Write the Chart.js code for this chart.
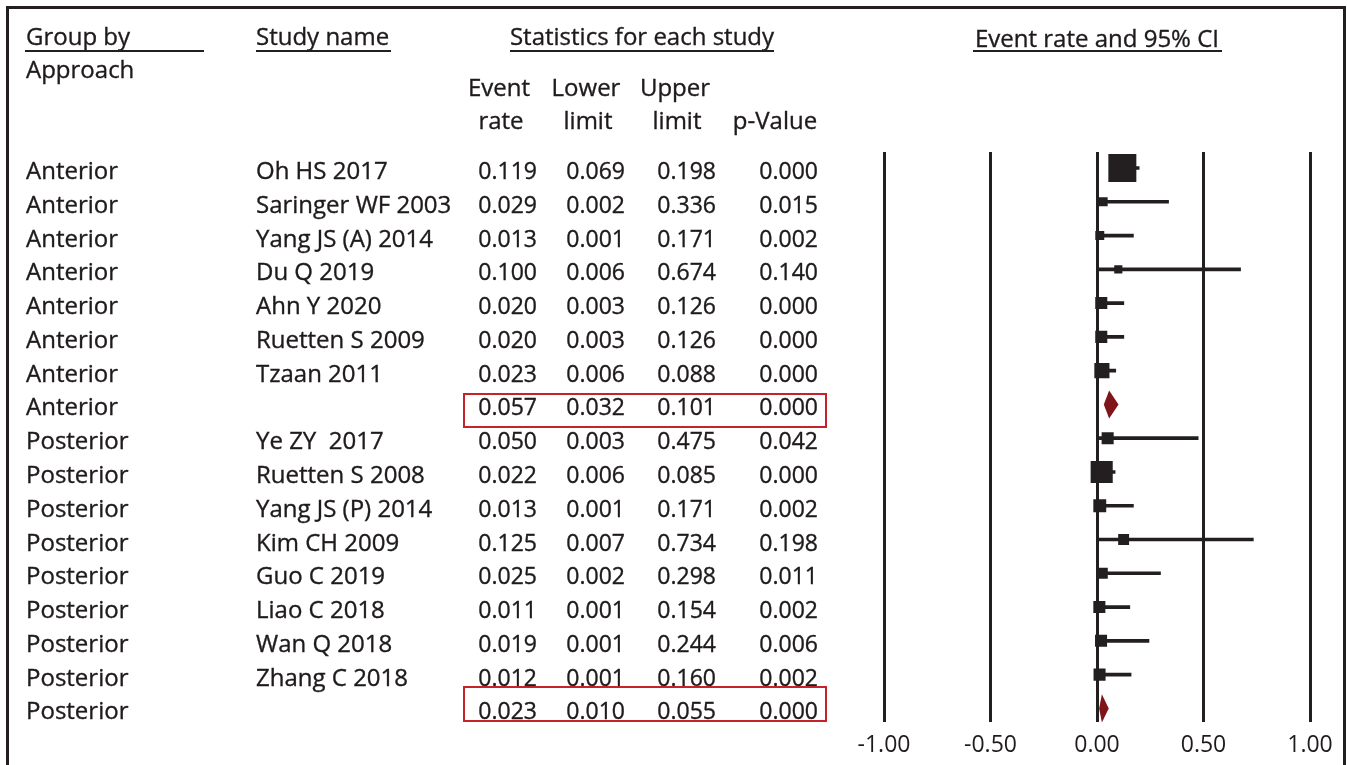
<!DOCTYPE html>
<html><head><meta charset="utf-8">
<script src="https://cdn.jsdelivr.net/npm/chart.js@4.4.1/dist/chart.umd.min.js"></script>
<style>
html,body{margin:0;padding:0;background:#fff;}
#wrap{position:relative;width:1347px;height:765px;overflow:hidden;font-family:'Open Sans',sans-serif;color:#1f1b1c;background:#fff;}
#c{position:absolute;left:0;top:0;}
.t{position:absolute;font-size:24px;line-height:32px;height:32px;white-space:pre;-webkit-text-stroke:0.35px #1f1b1c;}
.n{font-size:23px;}
.ln{position:absolute;background:#231f20;}
.box{position:absolute;border:2px solid #c4232c;box-sizing:border-box;}
</style></head><body><div id="wrap"><canvas id="c" width="1347" height="768"></canvas></div>
<script>
// ---------- data ----------
const groups = ['Anterior','Anterior','Anterior','Anterior','Anterior','Anterior','Anterior','Anterior',
  'Posterior','Posterior','Posterior','Posterior','Posterior','Posterior','Posterior','Posterior','Posterior'];
const studies = ['Oh HS 2017','Saringer WF 2003','Yang JS (A) 2014','Du Q 2019','Ahn Y 2020','Ruetten S 2009','Tzaan 2011','',
  'Ye ZY  2017','Ruetten S 2008','Yang JS (P) 2014','Kim CH 2009','Guo C 2019','Liao C 2018','Wan Q 2018','Zhang C 2018',''];
const eventRate = [0.119,0.029,0.013,0.100,0.020,0.020,0.023,0.057,0.050,0.022,0.013,0.125,0.025,0.011,0.019,0.012,0.023];
const lowerLimit = [0.069,0.002,0.001,0.006,0.003,0.003,0.006,0.032,0.003,0.006,0.001,0.007,0.002,0.001,0.001,0.001,0.010];
const upperLimit = [0.198,0.336,0.171,0.674,0.126,0.126,0.088,0.101,0.475,0.085,0.171,0.734,0.298,0.154,0.244,0.160,0.055];
const pValue = ['0.000','0.015','0.002','0.140','0.000','0.000','0.000','0.000','0.042','0.000','0.002','0.198','0.011','0.002','0.006','0.002','0.000'];
const isSummary = [false,false,false,false,false,false,false,true,false,false,false,false,false,false,false,false,true];
// relative study weight (box size relative to the largest study)
const relWeight = [1.00,0.32,0.32,0.29,0.43,0.43,0.54,null,0.43,0.79,0.46,0.39,0.39,0.43,0.43,0.43,null];
const xTicks = [-1,-0.5,0,0.5,1];

// ---------- style ----------
const INK = '#231f20', DIAMOND = '#7f1518';
const MAXBOX = 28; // px side of largest box
const DIAMOND_HALF = 0.415; // rows

const rows = eventRate.map((_, i) => i + 1);
const studyIdx = rows.map((r,i)=>i).filter(i => !isSummary[i]);
const sumIdx = rows.map((r,i)=>i).filter(i => isSummary[i]);

const datasets = [];
datasets.push({
  type: 'scatter', label: 'box', order: 0,
  data: studyIdx.map(i => ({x: eventRate[i], y: rows[i]})),
  pointStyle: 'rect',
  pointRadius: studyIdx.map(i => relWeight[i] * MAXBOX / (2 * Math.SQRT1_2)),
  pointBackgroundColor: INK, pointBorderWidth: 0, pointHoverRadius: 0
});
datasets.push({
  type: 'bar', label: 'ci', order: 2, indexAxis: 'y',
  data: studyIdx.map(i => ({y: rows[i], x: [lowerLimit[i], upperLimit[i]]})),
  backgroundColor: INK, barThickness: 3, borderWidth: 0
});
sumIdx.forEach(i => {
  datasets.push({
    type: 'line', label: 'pooled', order: 1,
    data: [
      {x: lowerLimit[i], y: rows[i]},
      {x: eventRate[i], y: rows[i] - DIAMOND_HALF},
      {x: upperLimit[i], y: rows[i]},
      {x: eventRate[i], y: rows[i] + DIAMOND_HALF},
      {x: lowerLimit[i], y: rows[i]}
    ],
    showLine: true, borderWidth: 0, borderColor: 'rgba(0,0,0,0)',
    backgroundColor: DIAMOND, fill: 'shape', pointRadius: 0, tension: 0
  });
});

const chart = new Chart(document.getElementById('c'), {
  type: 'scatter',
  data: { datasets },
  options: {
    responsive: false, animation: false, devicePixelRatio: 1, events: [],
    layout: { padding: { left: 884, right: 37, top: 152, bottom: 0 } },
    plugins: { legend: { display: false }, tooltip: { enabled: false } },
    scales: {
      x: {
        type: 'linear', min: -1, max: 1, offset: false,
        afterBuildTicks: ax => { ax.ticks = xTicks.map(v => ({ value: v })); },
        ticks: { callback: v => v.toFixed(2), color: '#1f1b1c', padding: 9, maxRotation: 0, autoSkip: false,
                 font: { family: 'Open Sans', size: 23 } },
        grid: { display: true, color: INK, lineWidth: 3, drawTicks: false, drawOnChartArea: true, offset: false },
        border: { display: false }
      },
      y: { type: 'linear', min: 0.526, max: 17.415, reverse: true, display: false, offset: false,
           grid: { offset: false } }
    }
  }
});

// ---------- table text (HTML) ----------
const wrap = document.getElementById('wrap');
function txt(s, x, yc, align, cls) {
  const d = document.createElement('div');
  d.className = 't' + (cls ? ' ' + cls : '');
  d.textContent = s;
  const W = 400;
  if (align === 'left') { d.style.left = x + 'px'; }
  else if (align === 'right') { d.style.left = (x - W) + 'px'; d.style.width = W + 'px'; d.style.textAlign = 'right'; }
  else { d.style.left = (x - W / 2) + 'px'; d.style.width = W + 'px'; d.style.textAlign = 'center'; }
  d.style.top = (yc - 16) + 'px';
  wrap.appendChild(d);
}
function line(x, y, w, h) {
  const d = document.createElement('div');
  d.className = 'ln';
  Object.assign(d.style, { left: x + 'px', top: y + 'px', width: w + 'px', height: h + 'px' });
  wrap.appendChild(d);
}
// frame
line(6, 6, 1340, 3); line(6, 6, 3, 759); line(1343, 6, 3, 759);
// headers
txt('Group by', 26, 36, 'left'); line(25, 50, 179, 2);
txt('Study name', 256, 36, 'left'); line(256, 50, 135, 2);
txt('Statistics for each study', 642, 36, 'center'); line(510, 50, 264, 2);
txt('Event rate and 95% CI', 1097, 38, 'center'); line(973, 50, 249, 2);
txt('Approach', 26, 69, 'left');
txt('Event', 499, 87, 'center'); txt('rate', 501, 120, 'center');
txt('Lower', 586, 87, 'center'); txt('limit', 588, 120, 'center');
txt('Upper', 675, 87, 'center'); txt('limit', 677, 120, 'center');
txt('p-Value', 775, 120, 'center');

const ys = chart.scales.y;
rows.forEach((r, i) => {
  const yc = ys.getPixelForValue(r) + 2;
  txt(groups[i], 26, yc, 'left');
  if (studies[i]) txt(studies[i], 256, yc, 'left');
  txt(eventRate[i].toFixed(3), 537, yc, 'right', 'n');
  txt(lowerLimit[i].toFixed(3), 625, yc, 'right', 'n');
  txt(upperLimit[i].toFixed(3), 716, yc, 'right', 'n');
  txt(pValue[i], 818, yc, 'right', 'n');
});
// highlight boxes around pooled rows
const boxOff = [[-11, 24], [-22, 14]];
sumIdx.forEach((i, k) => {
  const y = ys.getPixelForValue(rows[i]);
  const d = document.createElement('div');
  d.className = 'box';
  Object.assign(d.style, { left: '463px', width: '364px', top: (y + boxOff[k][0]) + 'px', height: (boxOff[k][1] - boxOff[k][0]) + 'px' });
  wrap.appendChild(d);
});
</script>
</body></html>
